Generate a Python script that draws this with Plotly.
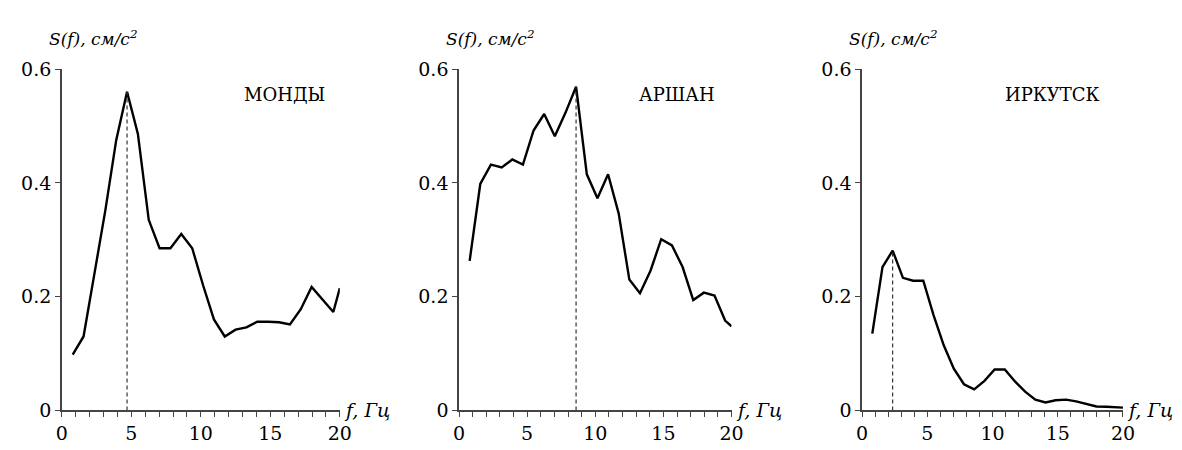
import plotly.graph_objects as go

# Frequency grid (Hz)
freq = [0.78, 1.56, 2.34, 3.13, 3.91, 4.69, 5.47, 6.25, 7.03, 7.81, 8.59, 9.38, 10.16,
        10.94, 11.72, 12.5, 13.28, 14.06, 14.84, 15.63, 16.41, 17.19, 17.97, 18.75, 19.53, 20.0]

mondy = [0.098, 0.130, 0.240, 0.352, 0.475, 0.560, 0.486, 0.335, 0.285, 0.285, 0.310, 0.285, 0.220,
         0.160, 0.130, 0.142, 0.146, 0.156, 0.156, 0.155, 0.151, 0.178, 0.217, 0.195, 0.173, 0.215]
arshan = [0.263, 0.398, 0.432, 0.427, 0.441, 0.432, 0.492, 0.521, 0.482, 0.523, 0.569, 0.415, 0.373,
          0.415, 0.346, 0.230, 0.206, 0.246, 0.301, 0.290, 0.252, 0.194, 0.207, 0.202, 0.158, 0.148]
irkutsk = [0.135, 0.252, 0.281, 0.233, 0.228, 0.228, 0.168, 0.115, 0.0735, 0.046, 0.037, 0.052, 0.072,
           0.072, 0.051, 0.033, 0.019, 0.014, 0.018, 0.019, 0.016, 0.011, 0.007, 0.0065, 0.006, 0.005]

stations = ["МОНДЫ", "АРШАН", "ИРКУТСК"]
series = [mondy, arshan, irkutsk]
x_ticks = [0, 5, 10, 15, 20]
y_ticks = [0, 0.2, 0.4, 0.6]
y_label = "S(f), см/с<sup>2</sup>"
x_label = "f, Гц"

FONT = "DejaVu Serif"
x_domains = [[0.048, 0.2868], [0.3892, 0.6233], [0.7355, 0.9596]]
y_domain = [0.0667, 0.8644]

fig = go.Figure()
layout = dict(
    width=1182, height=450,
    margin=dict(l=0, r=0, t=0, b=0),
    paper_bgcolor="white", plot_bgcolor="white",
    showlegend=False,
    font=dict(family=FONT, size=19, color="black"),
)
annotations = []
for i, (name, vals) in enumerate(zip(stations, series)):
    n = i + 1
    xa = "x" if n == 1 else f"x{n}"
    ya = "y" if n == 1 else f"y{n}"
    fig.add_trace(go.Scatter(x=freq, y=vals, mode="lines", xaxis=xa, yaxis=ya,
                             line=dict(color="black", width=2.4), cliponaxis=False))
    k = vals.index(max(vals))
    fig.add_trace(go.Scatter(x=[freq[k], freq[k]], y=[0, vals[k]], mode="lines", xaxis=xa, yaxis=ya,
                             line=dict(color="#333", width=1.2, dash="4px,3px")))
    axis_common = dict(showline=True, linecolor="#444", linewidth=1.5, showgrid=False,
                       zeroline=False, ticks="outside", ticklen=5, tickwidth=1.2, tickcolor="#444",
                       tickfont=dict(family=FONT, size=19, color="black"))
    layout[f"xaxis{'' if n == 1 else n}"] = dict(
        domain=x_domains[i], anchor=ya, range=[0, 20], tickvals=x_ticks,
        minor=dict(dtick=1, ticks="outside", ticklen=5, tickwidth=1.2, tickcolor="#444"),
        **axis_common)
    layout[f"yaxis{'' if n == 1 else n}"] = dict(
        domain=y_domain, anchor=xa, range=[0, 0.6], tickvals=y_ticks, **axis_common)
    annotations.append(dict(text="<i>" + y_label + "</i>", xref=f"{xa} domain", yref="paper",
                            x=0, y=1 - 28 / 450, xanchor="left", yanchor="middle", xshift=-15,
                            showarrow=False, font=dict(family=FONT, size=17, color="black")))
    annotations.append(dict(text=f"<i>{x_label}</i>", xref=f"{xa} domain", yref=f"{ya} domain",
                            x=1, y=0, xanchor="left", yanchor="middle", xshift=2, showarrow=False,
                            font=dict(family=FONT, size=19, color="black")))
    annotations.append(dict(text=name, xref=xa, yref=ya, x=16.0 if n < 3 else 14.6, y=0.556,
                            xanchor="center", yanchor="middle", showarrow=False,
                            font=dict(family=FONT, size=18, color="black")))
layout["annotations"] = annotations
fig.update_layout(**layout)
fig.write_html("out.html")
